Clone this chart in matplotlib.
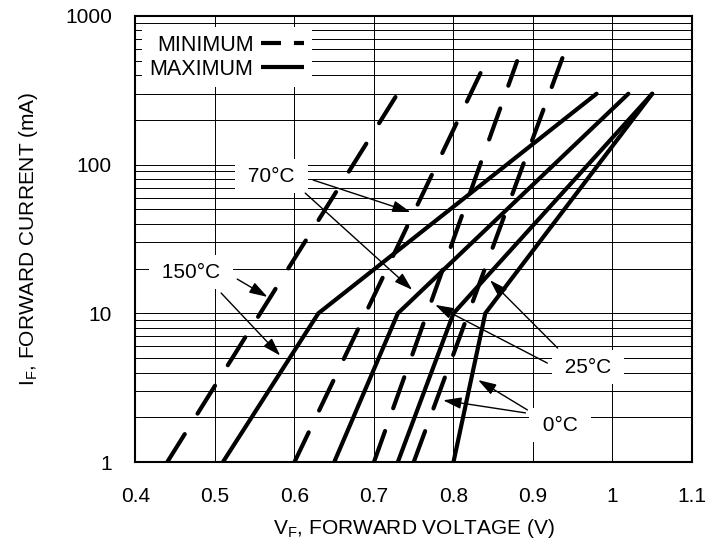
import numpy as np
import matplotlib
matplotlib.use('Agg')
import matplotlib.pyplot as plt
from matplotlib.lines import Line2D
from matplotlib.ticker import FixedLocator, NullFormatter

plt.rcParams['font.family'] = ['Liberation Sans', 'DejaVu Sans']
plt.rcParams['mathtext.fontset'] = 'custom'
plt.rcParams['mathtext.rm'] = 'Liberation Sans'

# maximum curves (solid), kink at 10 mA
i_max = [1, 10, 300]
v_150_max = [0.51, 0.63, 0.98]
v_70_max = [0.65, 0.73, 1.02]
v_25_max = [0.73, 0.80, 1.05]
v_0_max = [0.80, 0.84, 1.05]

# minimum curves (dashed), straight lines
v_150_min = [0.44, 0.727]
i_150_min = [1, 285]
v_70_min = [0.60, 0.834]
i_70_min = [1, 413]
v_25_min = [0.70, 0.88]
i_25_min = [1, 497]
v_0_min = [0.75, 0.937]
i_0_min = [1, 521]

x_ticks = [0.4, 0.5, 0.6, 0.7, 0.8, 0.9, 1.0, 1.1]
x_labels = ['0.4', '0.5', '0.6', '0.7', '0.8', '0.9', '1', '1.1']
y_ticks = [1, 10, 100, 1000]
y_labels = ['1', '10', '100', '1000']

fig = plt.figure(figsize=(7.23, 5.44), dpi=100)
ax = fig.add_axes([0.1874, 0.1507, 0.7697, 0.8199])

for v in [v_150_max, v_70_max, v_25_max, v_0_max]:
    ax.plot(v, i_max, color='black', lw=3, solid_capstyle='round',
            solid_joinstyle='miter', zorder=4)

for v, i in [(v_150_min, i_150_min), (v_70_min, i_70_min),
             (v_25_min, i_25_min), (v_0_min, i_0_min)]:
    ax.plot(v, i, color='black', lw=3, dashes=(7.9, 5.8),
            dash_capstyle='round', zorder=4)

ax.set_yscale('log')
ax.set_xlim(0.4, 1.1)
ax.set_ylim(1, 1000)
ax.set_xticks(x_ticks)
ax.set_xticklabels(x_labels)
ax.yaxis.set_major_locator(FixedLocator(y_ticks))
ax.set_yticklabels(y_labels)
ax.yaxis.set_minor_formatter(NullFormatter())
ax.tick_params(which='both', length=0, labelsize=15)
ax.tick_params(axis='x', pad=18)
ax.tick_params(axis='y', pad=17)
ax.grid(True, which='both', color='black', lw=0.7)
for s in ax.spines.values():
    s.set_linewidth(1.5)

ax.set_xlabel('V$_\\mathregular{F}$, FORWARD VOLTAGE (V)', fontsize=15, labelpad=8)
ax.set_ylabel('I$_\\mathregular{F}$, FORWARD CURRENT (mA)', fontsize=15, labelpad=18)

# temperature labels with arrows
box = dict(boxstyle='square,pad=0.35', fc='white', ec='none')
labels = [
    (' 70°C ', (0.571, 83.8), [((0.6235, 78.8), (0.746, 48)), ((0.6135, 64.4), (0.748, 14.4))]),
    (' 150°C ', (0.470, 18.9), [((0.528, 17.0), (0.566, 12.9)), ((0.5077, 13.7), (0.582, 5.2))]),
    (' 25°C ', (0.969, 4.35), [((0.918, 4.63), (0.777, 11.4)), ((0.931, 5.84), (0.846, 16.7))]),
    (' 0°C ', (0.934, 1.77), [((0.8905, 2.14), (0.787, 2.6)), ((0.893, 2.24), (0.831, 3.56))]),
]
for txt, pos, arrows in labels:
    ax.text(pos[0], pos[1], txt, fontsize=15, ha='center', va='center',
            bbox=box, zorder=3)
    for start, tip in arrows:
        ax.annotate('', xy=tip, xytext=start,
                    arrowprops=dict(arrowstyle='-|>,head_length=1.1,head_width=0.35',
                                    color='black', lw=1, shrinkA=0, shrinkB=0,
                                    mutation_scale=10), zorder=5)

handles = [Line2D([], [], color='black', lw=3, dashes=(4.8, 3.1), dash_capstyle='butt'),
           Line2D([], [], color='black', lw=3, solid_capstyle='butt')]
leg = ax.legend(handles, ['MINIMUM', 'MAXIMUM'], loc='upper left',
                bbox_to_anchor=(0.012, 0.975), borderaxespad=0, markerfirst=False,
                handlelength=2.0, handletextpad=0.35, labelspacing=0.15,
                borderpad=0.35, fancybox=False, facecolor='white',
                edgecolor='none', framealpha=1, fontsize=15.5)
leg.set_zorder(6)

fig.savefig('out.png', dpi=100)
